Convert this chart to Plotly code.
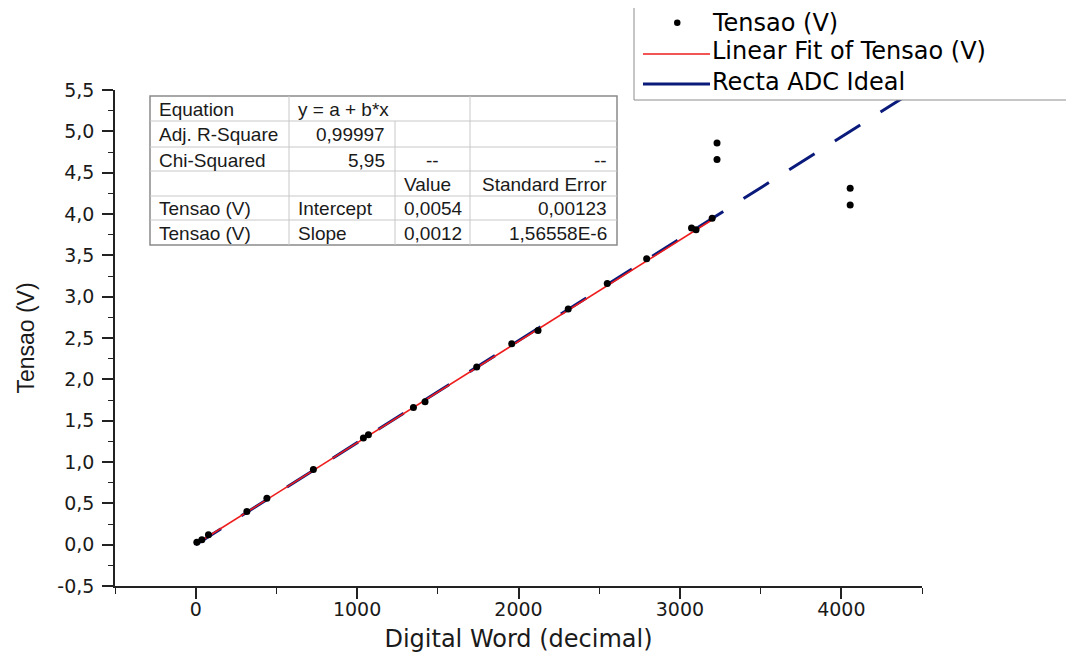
import plotly.graph_objects as go

# ---------------- data ----------------
digital_word = [7, 38, 79, 317, 441, 729, 1039, 1070, 1349, 1421, 1741, 1958, 2121,
                2308, 2550, 2794, 3072, 3100, 3200, 3230, 3230, 4055, 4055]
tensao = [0.03, 0.06, 0.12, 0.40, 0.56, 0.91, 1.29, 1.33, 1.66, 1.73, 2.15, 2.43, 2.59,
          2.85, 3.16, 3.46, 3.83, 3.81, 3.95, 4.86, 4.66, 4.31, 4.11]

fit_x = [0, 3200]
fit_y = [0.0054, 3.93]

ideal_x = [0, 4500]
ideal_y = [0, 5.55]

series_names = ["Tensao (V)", "Linear Fit of Tensao (V)", "Recta ADC Ideal"]

y_tickvals = [-0.5, 0, 0.5, 1, 1.5, 2, 2.5, 3, 3.5, 4, 4.5, 5, 5.5]
y_ticktext = ["-0,5", "0,0", "0,5", "1,0", "1,5", "2,0", "2,5", "3,0", "3,5",
              "4,0", "4,5", "5,0", "5,5"]
x_tickvals = [0, 1000, 2000, 3000, 4000]
x_ticktext = ["0", "1000", "2000", "3000", "4000"]

table_rows = [
    ["Equation", "y = a + b*x", "", ""],
    ["Adj. R-Square", "0,99997", "", ""],
    ["Chi-Squared", "5,95", "--", "--"],
    ["", "", "Value", "Standard Error"],
    ["Tensao (V)", "Intercept", "0,0054", "0,00123"],
    ["Tensao (V)", "Slope", "0,0012", "1,56558E-6"],
]
table_align = [
    ["l", "l", "l", "l"],
    ["l", "r", "l", "l"],
    ["l", "r", "c", "r"],
    ["l", "l", "l", "r"],
    ["l", "l", "l", "r"],
    ["l", "l", "l", "r"],
]

# ---------------- layout geometry (screen pixels; page body has 8px margin) ----------------
OFF = 8
W, H = 1066, 655
PL, PR, PT, PB = 115, 922, 90, 586          # plot area in screen pixels
L, T = PL - OFF, PT - OFF
R, B = W - (PR - OFF), H - (PB - OFF)
PW = PR - PL
PH = PB - PT

def px(x):
    return (x - PL) / PW

def py(y):
    return (PB - y) / PH

FONT = "Arial, Liberation Sans, sans-serif"
WIDE = "DejaVu Sans, Arial, sans-serif"
COL_DOT = "black"
COL_FIT = "#ee1c1c"
COL_IDEAL = "#0a1a7a"

fig = go.Figure()

fig.add_trace(go.Scatter(
    x=ideal_x, y=ideal_y, mode="lines", name=series_names[2],
    line=dict(color=COL_IDEAL, width=3, dash="30px,24px")))
fig.add_trace(go.Scatter(
    x=fit_x, y=fit_y, mode="lines", name=series_names[1],
    line=dict(color=COL_FIT, width=1.6)))
fig.add_trace(go.Scatter(
    x=digital_word, y=tensao, mode="markers", name=series_names[0],
    marker=dict(color=COL_DOT, size=7)))

shapes = []
annotations = []

# fit-result table
col_x = [150, 289, 395, 470, 617]
row_y = [96, 121, 147, 171, 196, 220, 245]
shapes.append(dict(type="rect", xref="paper", yref="paper",
                   x0=px(col_x[0]), x1=px(col_x[-1]), y0=py(row_y[-1]), y1=py(row_y[0]),
                   fillcolor="white", line=dict(color="#8a8a8a", width=1.5), layer="above"))
inner = dict(color="#c8c8c8", width=1)
for ry in row_y[1:-1]:
    shapes.append(dict(type="line", xref="paper", yref="paper",
                       x0=px(col_x[0]), x1=px(col_x[-1]), y0=py(ry), y1=py(ry),
                       line=inner, layer="above"))
for ci, cx in enumerate(col_x[1:-1], start=1):
    start_row = 1 if ci == 2 else 0
    shapes.append(dict(type="line", xref="paper", yref="paper",
                       x0=px(cx), x1=px(cx), y0=py(row_y[-1]), y1=py(row_y[start_row]),
                       line=inner, layer="above"))

for ri, row in enumerate(table_rows):
    yc = (row_y[ri] + row_y[ri + 1]) / 2
    for ci, txt in enumerate(row):
        if not txt:
            continue
        a = table_align[ri][ci]
        if a == "l":
            xx, anchor = col_x[ci] + 7, "left"
        elif a == "r":
            xx, anchor = col_x[ci + 1] - 8, "right"
        else:
            xx, anchor = (col_x[ci] + col_x[ci + 1]) / 2, "center"
        annotations.append(dict(xref="paper", yref="paper", x=px(xx), y=py(yc + 1),
                                xanchor=anchor, yanchor="middle", text=txt, showarrow=False,
                                font=dict(family=FONT, size=19, color="#1a1a1a")))

# legend (frame, samples, labels)
shapes.append(dict(type="rect", xref="paper", yref="paper",
                   x0=px(634), x1=px(1090), y0=py(100), y1=py(-5),
                   fillcolor="white", line=dict(color="#8c8c8c", width=1), layer="above"))
shapes.append(dict(type="circle", xref="paper", yref="paper",
                   x0=px(674), x1=px(680.5), y0=py(26), y1=py(19.5),
                   fillcolor=COL_DOT, line=dict(color=COL_DOT, width=0), layer="above"))
shapes.append(dict(type="line", xref="paper", yref="paper",
                   x0=px(643), x1=px(710), y0=py(54), y1=py(54),
                   line=dict(color=COL_FIT, width=1.4), layer="above"))
shapes.append(dict(type="line", xref="paper", yref="paper",
                   x0=px(643), x1=px(710), y0=py(84), y1=py(84),
                   line=dict(color=COL_IDEAL, width=3), layer="above"))
for name, yy in zip(series_names, [23, 51, 82]):
    annotations.append(dict(xref="paper", yref="paper", x=px(711), y=py(yy),
                            xanchor="left", yanchor="middle", text=name, showarrow=False,
                            borderpad=0,
                            font=dict(family=WIDE, size=24, color="black")))

fig.update_layout(
    width=W, height=H,
    margin=dict(l=L, r=R, t=T, b=B, autoexpand=False),
    paper_bgcolor="white", plot_bgcolor="white",
    font=dict(family=WIDE, color="#1a1a1a"),
    showlegend=False,
    shapes=shapes,
    annotations=annotations,
    xaxis=dict(range=[-500, 4500], tickvals=x_tickvals, ticktext=x_ticktext,
               showgrid=False, zeroline=False,
               showline=True, linecolor="#222", linewidth=1.6,
               ticks="outside", ticklen=11, tickwidth=1.5, tickcolor="#222",
               minor=dict(dtick=500, tick0=0, ticks="outside", ticklen=6, tickwidth=1.3, tickcolor="#222"),
               ticklabelstandoff=-6,
               tickfont=dict(family=WIDE, size=19, color="#1a1a1a"),
               title=dict(text="Digital Word (decimal)", standoff=12,
                          font=dict(family=WIDE, size=24, color="#1a1a1a"))),
    yaxis=dict(range=[-0.5, 5.5], tickvals=y_tickvals, ticktext=y_ticktext,
               showgrid=False, zeroline=False,
               showline=True, linecolor="#222", linewidth=1.6,
               ticks="outside", ticklen=11, tickwidth=1.5, tickcolor="#222",
               minor=dict(dtick=0.25, tick0=0, ticks="outside", ticklen=5, tickwidth=1.3, tickcolor="#222"),
               ticklabelstandoff=4,
               tickfont=dict(family=WIDE, size=19, color="#1a1a1a"),
               title=dict(text="Tensao (V)", standoff=16,
                          font=dict(family=FONT, size=23, color="#1a1a1a"))),
)

fig.write_html("out.html")
